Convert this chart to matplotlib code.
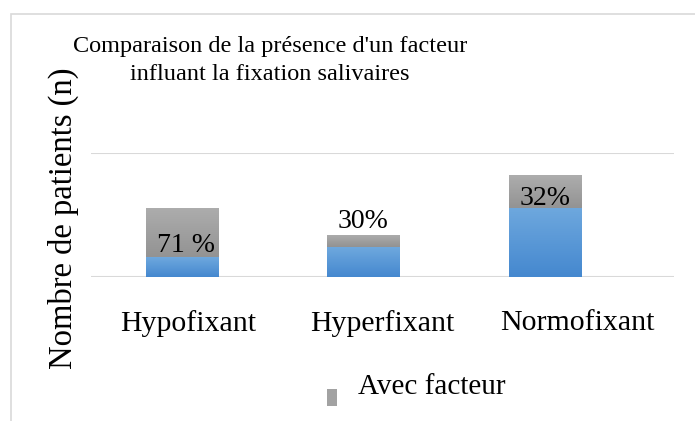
# Comparaison de la présence d'un facteur influant la fixation salivaire
import numpy as np
import matplotlib.pyplot as plt
from matplotlib.patches import Rectangle
from matplotlib.colors import LinearSegmentedColormap
from matplotlib.legend_handler import HandlerPatch

plt.rcParams['font.family'] = ['Liberation Serif', 'DejaVu Serif']

# données
categories = ['Hypofixant', 'Hyperfixant', 'Normofixant']
sans_facteur = [8, 12, 28]
avec_facteur = [20, 5, 13]
pourcentages = ['71 %', '30%', '32%']

fig = plt.figure(figsize=(6.95, 4.21), dpi=100)
ax = fig.add_axes([91/695, 1-277/421, (674-91)/695, (277-153)/421])

x = np.arange(len(categories))
w = 0.40
b1 = ax.bar(x, sans_facteur, w, color='#5b9ad8', zorder=2, label='Sans facteur')
b2 = ax.bar(x, avec_facteur, w, bottom=sans_facteur, color='#a2a2a2', zorder=2,
            label='Avec facteur')

# dégradés verticaux
def degrade(bars, haut, bas):
    grad = np.linspace(0, 1, 100).reshape(-1, 1)
    cmap = LinearSegmentedColormap.from_list('g', [bas, haut])
    for p in bars:
        x0, y0 = p.get_x(), p.get_y()
        im = ax.imshow(grad, cmap=cmap, aspect='auto', origin='lower',
                       extent=[x0, x0 + p.get_width(), y0, y0 + p.get_height()],
                       zorder=2.5)
        im.set_clip_path(p)

degrade(b1, '#6ea8de', '#4588cf')
degrade(b2, '#adadad', '#939393')

ax.set_xlim(-0.501, 2.711)
ax.set_ylim(0, 50)
ax.set_yticks([0, 50])
ax.set_yticklabels([])
ax.tick_params(axis='y', length=0)
ax.grid(axis='y', color='#d9d9d9', linewidth=1.5, zorder=0)
for s in ax.spines.values():
    s.set_visible(False)

# étiquettes des catégories (décalées comme dans Excel)
ax.set_xticks(x * 1.072 + 0.033)
ax.set_xticklabels(categories, fontsize=21.5)
ax.tick_params(axis='x', length=0, pad=24)

ax.set_ylabel('Nombre de patients (n)', fontsize=23.5)
ax.yaxis.set_label_coords(79/695, 1-218/421, transform=fig.transFigure)

# pourcentages
tot = np.array(sans_facteur) + np.array(avec_facteur)
ax.text(x[0] + 0.02, sans_facteur[0] + 4.8, pourcentages[0], ha='center', va='center', fontsize=20, zorder=3)
ax.text(x[1], tot[1] + 5.3, pourcentages[1], ha='center', va='center', fontsize=20, zorder=3)
ax.text(x[2], tot[2] - 9.2, pourcentages[2], ha='center', va='center', fontsize=20, zorder=3)

fig.suptitle("Comparaison de la présence d'un facteur\ninfluant la fixation salivaires",
             x=270/695, y=1-36/421, fontsize=17.5, linespacing=1.45)


# carré de légende décalé vers le bas
def carre(legend, orig_handle, xdescent, ydescent, width, height, fontsize):
    return Rectangle((-xdescent, -ydescent - 10), width, height)


carre_gris = b2.patches[0]
fig.legend(handles=[carre_gris], labels=['Avec facteur'], loc='center',
           bbox_to_anchor=(416/695, 1-387/421), frameon=False, fontsize=21,
           handlelength=0.35, handleheight=0.52, handletextpad=0.7,
           handler_map={carre_gris: HandlerPatch(patch_func=carre)})

fig.patches.append(Rectangle((11/695, -0.1), 1.2, 1 - 14/421 + 0.1, transform=fig.transFigure,
                             fill=False, edgecolor='#d9d9d9', linewidth=1.2))

fig.savefig('out.png', dpi=100)
